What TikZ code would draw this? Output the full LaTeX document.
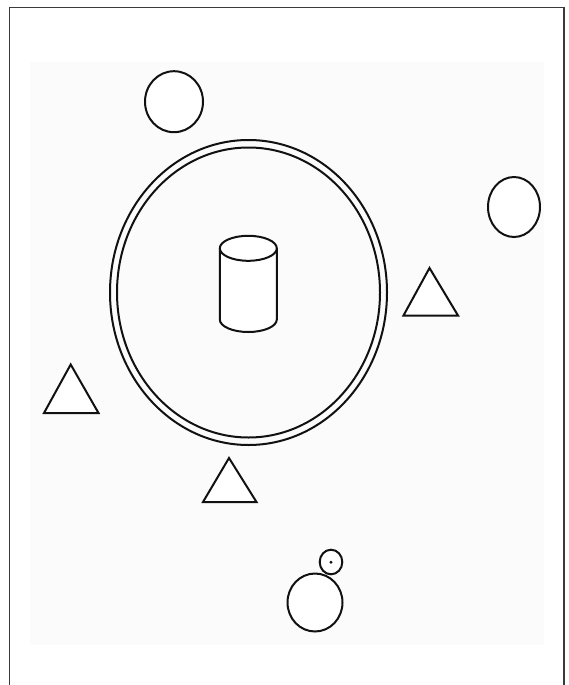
\documentclass[tikz,border=0pt]{standalone}
\usepackage{tikz}
\usetikzlibrary{positioning,calc}
\definecolor{framegray}{HTML}{3A3A3A}
\definecolor{groundgray}{HTML}{FBFBFB}
\definecolor{inkblack}{HTML}{111111}
\begin{document}
\begin{tikzpicture}[x=1pt, y=-1pt,
  outline/.style={draw=inkblack, line width=2pt, fill=white},
  ring/.style={draw=inkblack, line width=2pt},
  frameline/.style={draw=framegray, line width=1.4pt}]
  \useasboundingbox (0,0) rectangle (568,685);
  \fill[groundgray] (30,62) rectangle (544,645);
  \draw[frameline] (9.5,690) -- (9.5,7.5) -- (564,7.5) -- (564,690);
  % enclosure with the can inside
  \coordinate (hub) at (248.5,292.5);
  \draw[ring] (hub) ellipse [x radius=138.5, y radius=152.5];
  \draw[ring] (hub) ellipse [x radius=131.5, y radius=145];
  \coordinate (cantop) at (248.3,248.3);
  \coordinate (canbot) at (248.3,319.5);
  \draw[outline] ($(cantop)+(-28.5,0)$) -- ($(canbot)+(-28.5,0)$)
    arc[start angle=180, end angle=360, x radius=28.5, y radius=-12.5]
    -- ($(cantop)+(28.5,0)$);
  \draw[outline] (cantop) ellipse [x radius=28.5, y radius=12.5];
  % round pieces
  \draw[outline] (174,101.7) ellipse [x radius=29, y radius=30.5];
  \draw[outline] (514,207) ellipse [x radius=26, y radius=30];
  \draw[outline] (315,602.5) ellipse [x radius=27.5, y radius=29];
  \draw[outline] (331,562) ellipse [x radius=11.3, y radius=12.3];
  \fill[inkblack] (331,562.3) circle (1.6);
  % triangles
  \draw[outline, line join=miter] (429.5,268) -- (458,315.5) -- (403.5,315.5) -- cycle;
  \draw[outline, line join=miter] (70.7,364.5) -- (98.5,413) -- (44,413) -- cycle;
  \draw[outline, line join=miter] (229,458) -- (256.5,502) -- (203,502) -- cycle;
\end{tikzpicture}
\end{document}
